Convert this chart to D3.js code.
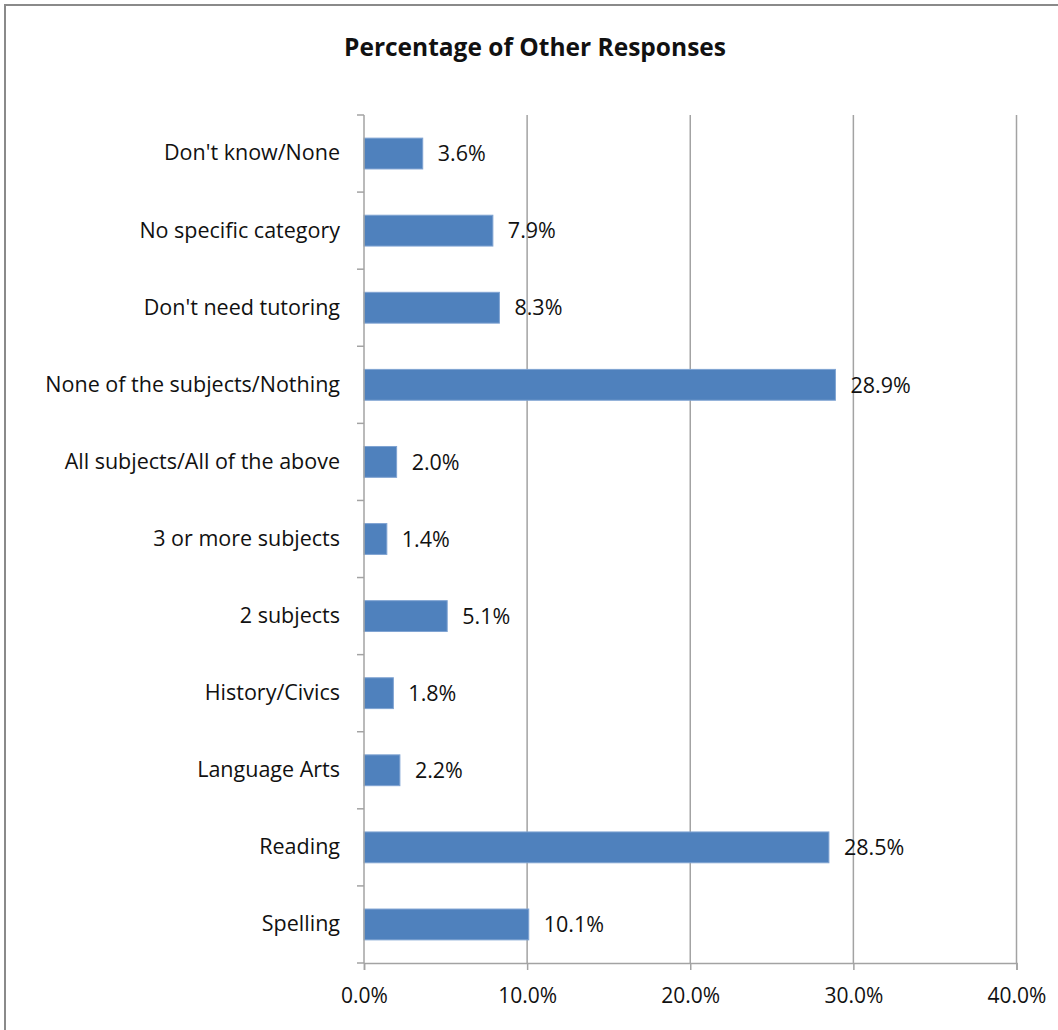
<html>
<script src='https://d3js.org/d3.v7.min.js'></script>
<style>
  body { margin: 0; background: #fff; }
  text { font-family: 'Open Sans', sans-serif; fill: #111; }
</style>
<body onload='init()'>
<svg width=1058 height=1030>
</svg>
<script>
const categories = ["Don't know/None", "No specific category", "Don't need tutoring",
  "None of the subjects/Nothing", "All subjects/All of the above", "3 or more subjects",
  "2 subjects", "History/Civics", "Language Arts", "Reading", "Spelling"];
const values = [3.6, 7.9, 8.3, 28.9, 2.0, 1.4, 5.1, 1.8, 2.2, 28.5, 10.1];
const xTicks = [0, 10, 20, 30, 40];

function init() {
  const svg = d3.select('svg');
  const left = 364, right = 1016.5, top = 115, bottom = 963;

  const xs = d3.scaleLinear().domain([0, 40]).range([left, right]);
  const ys = d3.scaleBand().domain(categories).range([top, bottom])
    .paddingInner(0.6).paddingOuter(0.3);

  // outer chart border
  svg.append('rect')
    .attr('x', 5).attr('y', 5).attr('width', 1100).attr('height', 1100)
    .attr('fill', 'none').attr('stroke', '#8a8a8a').attr('stroke-width', 2);

  svg.append('text')
    .attr('x', 535).attr('y', 56)
    .attr('text-anchor', 'middle')
    .style('font-size', '24.5px').style('font-weight', 'bold')
    .text('Percentage of Other Responses');

  // vertical gridlines
  svg.append('g').selectAll('line').data(xTicks.slice(1)).enter().append('line')
    .attr('x1', d => xs(d)).attr('x2', d => xs(d))
    .attr('y1', top).attr('y2', bottom)
    .attr('stroke', '#a3a3a3').attr('stroke-width', 1.5);

  // bars
  const data = categories.map((c, i) => ({ cat: c, v: values[i] }));
  svg.append('g').selectAll('rect').data(data).enter().append('rect')
    .attr('x', xs(0))
    .attr('y', d => ys(d.cat))
    .attr('width', d => xs(d.v) - xs(0))
    .attr('height', ys.bandwidth())
    .attr('fill', '#4f81bd')
    .attr('stroke', '#7fa3d2').attr('stroke-width', 1);

  // value labels
  svg.append('g').selectAll('text').data(data).enter().append('text')
    .attr('x', d => xs(d.v) + 15)
    .attr('y', d => ys(d.cat) + ys.bandwidth() / 2)
    .attr('dy', '0.36em')
    .style('font-size', '21.5px')
    .text(d => d.v.toFixed(1) + '%');

  // category axis
  const yAxis = svg.append('g')
    .attr('transform', 'translate(' + left + ',0)')
    .call(d3.axisLeft(ys).tickSize(0).tickPadding(24));
  yAxis.select('.domain').remove();
  yAxis.selectAll('text').style('font-size', '21.5px').attr('fill', '#111');

  const step = ys.step();
  const bounds = d3.range(categories.length + 1).map(i => top + i * step);
  svg.append('g').selectAll('line').data(bounds).enter().append('line')
    .attr('x1', left - 7).attr('x2', left)
    .attr('y1', d => d).attr('y2', d => d)
    .attr('stroke', '#a3a3a3').attr('stroke-width', 1.5);
  svg.append('line')
    .attr('x1', left).attr('x2', left).attr('y1', top).attr('y2', bottom)
    .attr('stroke', '#a3a3a3').attr('stroke-width', 1.5);

  // value axis
  const xAxis = svg.append('g')
    .attr('transform', 'translate(0,' + bottom + ')')
    .call(d3.axisBottom(xs).tickValues(xTicks).tickSize(7).tickPadding(18)
      .tickFormat(d => d.toFixed(1) + '%'));
  xAxis.select('.domain').attr('stroke', '#a3a3a3').attr('stroke-width', 1.5);
  xAxis.selectAll('line').attr('stroke', '#a3a3a3').attr('stroke-width', 1.5);
  xAxis.selectAll('text').style('font-size', '21px').attr('fill', '#111');
}
</script>
</body>
</html>
